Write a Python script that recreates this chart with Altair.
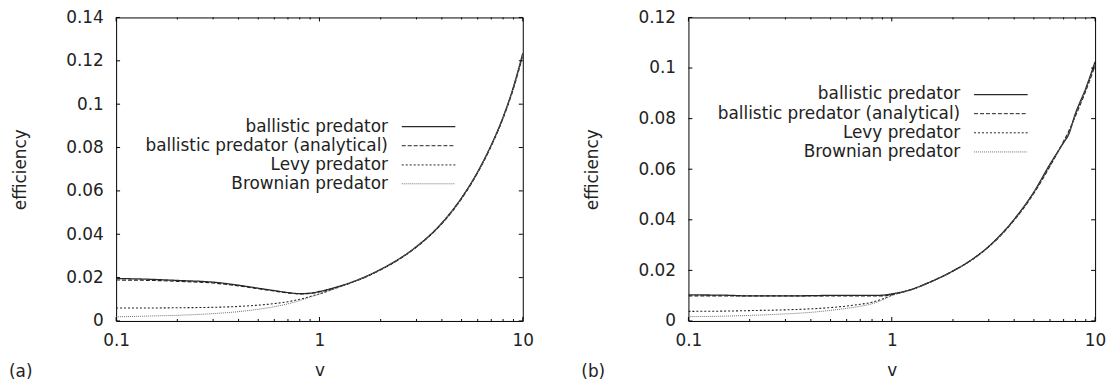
import altair as alt
import pandas as pd

SERIES = ["ballistic predator", "ballistic predator (analytical)", "Levy predator", "Brownian predator"]
COLORS = ["#2a2a2a", "#222222", "#222222", "#707070"]
DASHES = [[1, 0], [4, 2], [2, 2], [1, 1]]
WIDTHS = [1.3, 1.0, 1.0, 1.0]

# panel (a)
v_a = [0.1, 0.15, 0.2, 0.3, 0.4, 0.5, 0.6, 0.7, 0.8, 0.9, 1, 1.25, 1.5, 2, 2.5, 3, 4, 5, 6, 7, 8, 9, 10]
ball_a = [0.0196, 0.0192, 0.0187, 0.0179, 0.0165, 0.0151, 0.0140, 0.0131, 0.0126, 0.0128, 0.0136, 0.0160,
          0.0185, 0.0238, 0.0290, 0.0343, 0.0452, 0.0568, 0.0688, 0.0812, 0.0940, 0.1080, 0.1235]
anal_a = [0.0189, 0.0187, 0.0183, 0.0175, 0.0162, 0.0149, 0.0138, 0.0130, 0.0125, 0.0127, 0.0134, 0.0158,
          0.0183, 0.0236, 0.0288, 0.0341, 0.0449, 0.0564, 0.0684, 0.0808, 0.0935, 0.1073, 0.1225]
levy_a = [0.0060, 0.0060, 0.0061, 0.0063, 0.0067, 0.0073, 0.0080, 0.0089, 0.0100, 0.0113, 0.0125, 0.0157,
          0.0184, 0.0237, 0.0289, 0.0342, 0.0451, 0.0566, 0.0686, 0.0810, 0.0938, 0.1077, 0.1230]
brown_a = [0.0019, 0.0023, 0.0026, 0.0034, 0.0043, 0.0054, 0.0066, 0.0079, 0.0094, 0.0110, 0.0124, 0.0156,
           0.0184, 0.0237, 0.0289, 0.0342, 0.0451, 0.0566, 0.0686, 0.0810, 0.0938, 0.1077, 0.1230]

# panel (b)
v_b = [0.1, 0.15, 0.2, 0.3, 0.4, 0.5, 0.6, 0.7, 0.8, 0.9, 1, 1.25, 1.5, 2, 2.5, 3, 4, 5, 6, 7, 7.4, 8, 9, 10]
ball_b = [0.0103, 0.0102, 0.0099, 0.0099, 0.0100, 0.0101, 0.0101, 0.0101, 0.0101, 0.0102, 0.0107, 0.0125,
          0.0150, 0.0198, 0.0245, 0.0295, 0.0402, 0.0510, 0.0620, 0.0705, 0.0736, 0.0820, 0.0920, 0.1025]
anal_b = [0.0099, 0.0099, 0.0099, 0.0099, 0.0099, 0.0099, 0.0099, 0.0099, 0.0099, 0.0099, 0.0104, 0.0124,
          0.0149, 0.0197, 0.0244, 0.0293, 0.0398, 0.0505, 0.0612, 0.0710, 0.0748, 0.0810, 0.0910, 0.1010]
levy_b = [0.0038, 0.0039, 0.0041, 0.0044, 0.0048, 0.0053, 0.0059, 0.0066, 0.0074, 0.0087, 0.0102, 0.0124,
          0.0149, 0.0197, 0.0244, 0.0294, 0.0400, 0.0508, 0.0616, 0.0708, 0.0742, 0.0815, 0.0915, 0.1018]
brown_b = [0.0017, 0.0019, 0.0022, 0.0028, 0.0034, 0.0042, 0.0050, 0.0058, 0.0068, 0.0083, 0.0100, 0.0123,
           0.0148, 0.0196, 0.0243, 0.0293, 0.0399, 0.0507, 0.0615, 0.0707, 0.0740, 0.0815, 0.0915, 0.1015]

X_MAJOR = [0.1, 1, 10]
X_MINOR = [0.2, 0.3, 0.4, 0.5, 0.6, 0.7, 0.8, 0.9, 2, 3, 4, 5, 6, 7, 8, 9]

W, H = 410, 306
FONT = "DejaVu Sans"
FS = 17
TXT = "#222222"


def panel(v, cols, ymax, tag, rows_y, text_right, line_x0, line_x1):
    recs = []
    for s, vals in zip(SERIES, cols):
        for x, y in zip(v, vals):
            recs.append({"v": x, "eff": y, "series": s})
    df = pd.DataFrame(recs)
    n = int(round(ymax / 0.02))
    yvals = [round(i * 0.02, 2) for i in range(n + 1)]

    xs = alt.Scale(type="log", domain=[0.1, 10], nice=False)
    ys = alt.Scale(domain=[0, ymax], nice=False, zero=False)
    common = dict(ticks=False, domain=False, grid=False, labelOverlap=False,
                  labelFont=FONT, labelFontSize=FS, labelColor=TXT,
                  titleFont=FONT, titleFontSize=FS, titleFontWeight="normal", titleColor=TXT)
    xaxis = alt.Axis(values=X_MAJOR, format="~g", title="v", labelPadding=12, titlePadding=14,
                     labelFlush=False, **common)
    yaxis = alt.Axis(values=yvals, format=".2~f", title="efficiency", labelPadding=13, titlePadding=37,
                     **common)
    X = alt.X("v:Q", scale=xs, axis=xaxis)
    Y = alt.Y("eff:Q", scale=ys, axis=yaxis)

    lines = alt.Chart(df).mark_line(interpolate="monotone", clip=True).encode(
        x=X, y=Y,
        color=alt.Color("series:N", scale=alt.Scale(domain=SERIES, range=COLORS), legend=None),
        strokeDash=alt.StrokeDash("series:N", scale=alt.Scale(domain=SERIES, range=DASHES), legend=None),
        strokeWidth=alt.StrokeWidth("series:N", scale=alt.Scale(domain=SERIES, range=WIDTHS), legend=None),
    )

    ydf = pd.DataFrame({"eff": yvals})
    xmaj = pd.DataFrame({"v": X_MAJOR})
    xmin = pd.DataFrame({"v": X_MINOR})
    layers = [lines]
    layers.append(alt.Chart(ydf).mark_rule(color="black").encode(y=Y, x=alt.value(0), x2=alt.value(4)))
    layers.append(alt.Chart(ydf).mark_rule(color="black").encode(y=Y, x=alt.value(W - 4), x2=alt.value(W)))
    layers.append(alt.Chart(xmaj).mark_rule(color="black").encode(x=X, y=alt.value(H - 4), y2=alt.value(H)))
    layers.append(alt.Chart(xmaj).mark_rule(color="black").encode(x=X, y=alt.value(0), y2=alt.value(4)))
    layers.append(alt.Chart(xmin).mark_rule(color="black").encode(x=X, y=alt.value(H - 2), y2=alt.value(H)))
    layers.append(alt.Chart(xmin).mark_rule(color="black").encode(x=X, y=alt.value(0), y2=alt.value(2)))

    one = pd.DataFrame({"k": [0]})
    for i, s in enumerate(SERIES):
        lab = pd.DataFrame({"label": [s]})
        layers.append(alt.Chart(lab).mark_text(align="right", baseline="middle", font=FONT,
                                               fontSize=FS, color=TXT).encode(
            x=alt.value(text_right), y=alt.value(rows_y[i]), text="label:N"))
        layers.append(alt.Chart(one).mark_rule(color=COLORS[i], strokeDash=DASHES[i],
                                               strokeWidth=WIDTHS[i]).encode(
            x=alt.value(line_x0), x2=alt.value(line_x1), y=alt.value(rows_y[i])))

    tagdf = pd.DataFrame({"tag": [tag]})
    layers.append(alt.Chart(tagdf).mark_text(align="left", baseline="middle", font=FONT,
                                             fontSize=FS, color=TXT).encode(
        x=alt.value(-108), y=alt.value(357), text="tag:N"))

    return alt.layer(*layers).properties(width=W, height=H)


pa = panel(v_a, [ball_a, anal_a, levy_a, brown_a], 0.14, "(a)",
           [110, 129.3, 148.7, 167.7], 274, 288, 342)
pb = panel(v_b, [ball_b, anal_b, levy_b, brown_b], 0.12, "(b)",
           [77.7, 97, 116.3, 135.6], 274, 288, 342)

chart = alt.hconcat(pa, pb, spacing=46).properties(
    padding={"left": 0, "top": -2, "right": 0, "bottom": 0}
).configure_view(stroke="black", strokeWidth=1)

chart.save("out.html", embed_options={"renderer": "svg", "actions": False})
